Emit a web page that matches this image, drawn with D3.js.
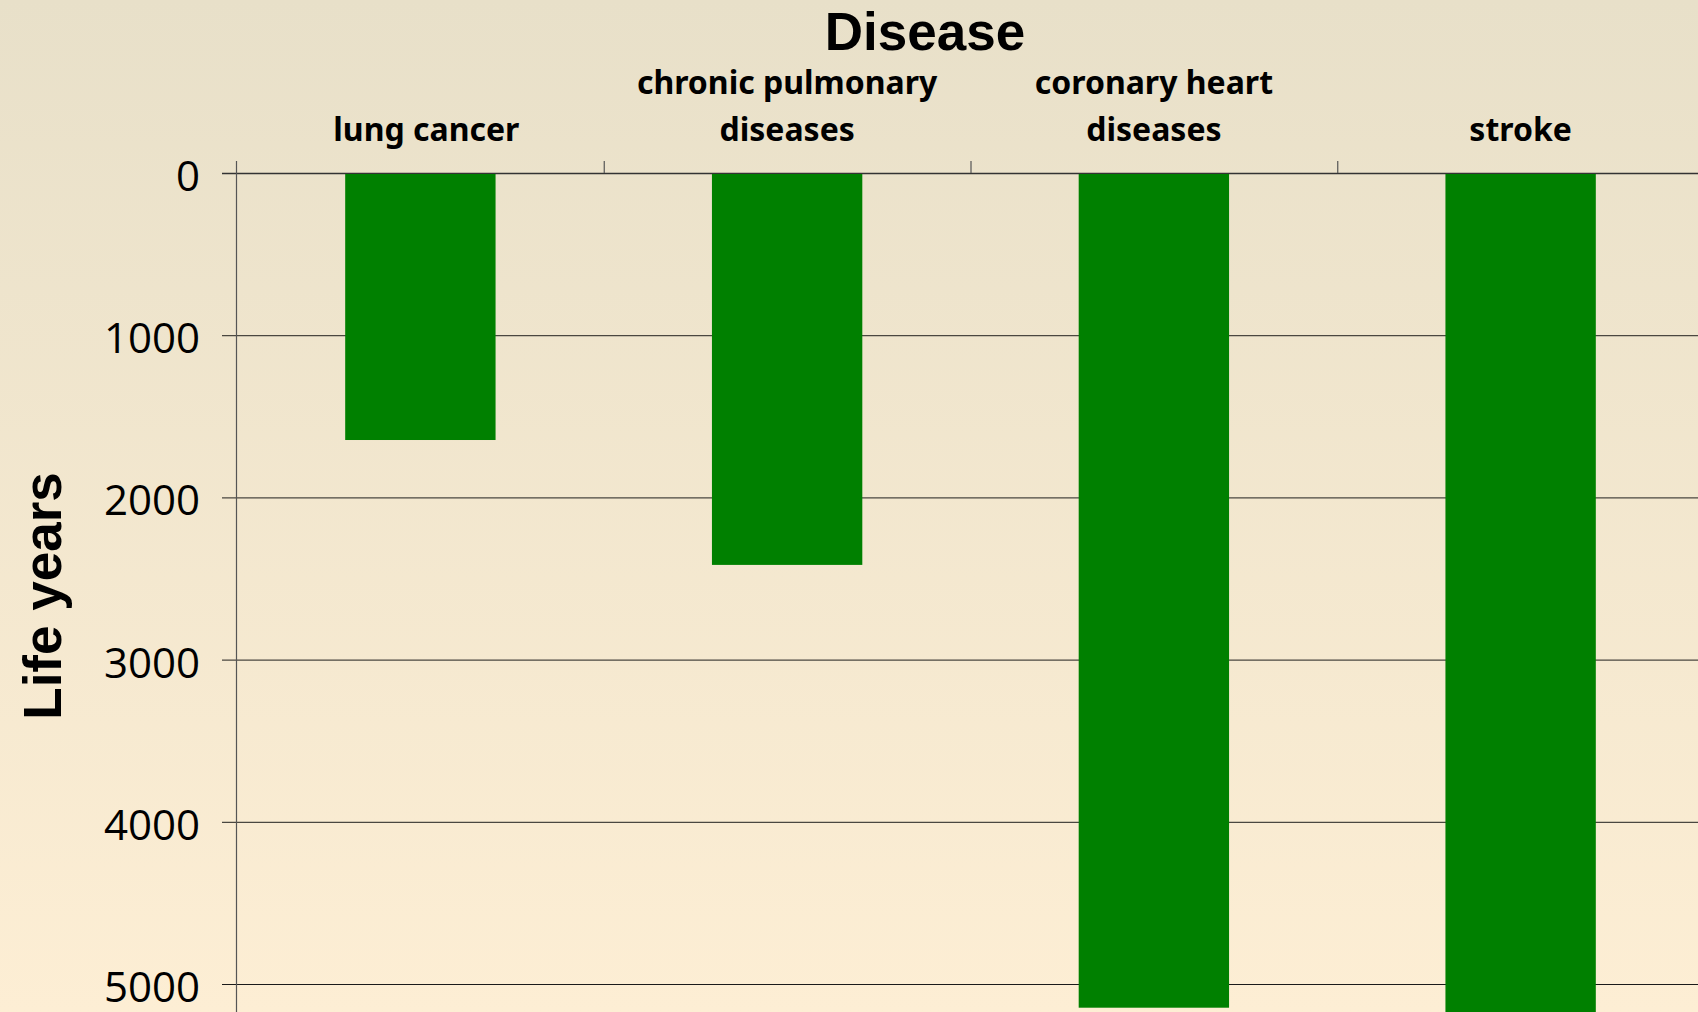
<!DOCTYPE html>
<html>
<head>
<meta charset="utf-8">
<script src="https://cdn.jsdelivr.net/npm/d3@7"></script>
<style>
  html, body { margin: 0; padding: 0; overflow: hidden; }
</style>
</head>
<body>
<svg id="chart"></svg>
<script>
const width = 1698;
const height = 1012;

// Data
const categories = ["lung cancer", "chronic pulmonary diseases", "coronary heart diseases", "stroke"];
const labelLines = [["lung cancer"], ["chronic pulmonary", "diseases"], ["coronary heart", "diseases"], ["stroke"]];
const lifeYears = [1640, 2410, 5140, 5300];
const yTicks = [0, 1000, 2000, 3000, 4000, 5000];

const svg = d3.select("#chart")
  .attr("width", width)
  .attr("height", height);

// Background gradient
const grad = svg.append("defs").append("linearGradient")
  .attr("id", "bg")
  .attr("x1", 0).attr("y1", 0).attr("x2", 0).attr("y2", 1);
grad.append("stop").attr("offset", "0%").attr("stop-color", "#e8e0c9");
grad.append("stop").attr("offset", "100%").attr("stop-color", "#fdeed4");

svg.append("rect")
  .attr("width", width)
  .attr("height", height)
  .attr("fill", "url(#bg)");

// Scales
const x = d3.scaleBand()
  .domain(categories)
  .range([237, 1704]);

const y = d3.scaleLinear()
  .domain([0, 5000])
  .range([173, 984]);

const barFrac = 0.41;

// Gridlines + left ticks
svg.append("g")
  .selectAll("line")
  .data(yTicks)
  .enter()
  .append("line")
    .attr("x1", 222)
    .attr("x2", width)
    .attr("y1", d => y(d) + 0.5)
    .attr("y2", d => y(d) + 0.5)
    .attr("stroke", d => d === 0 ? "#333" : (d === 5000 ? "#1a1a1a" : "#4a4740"))
    .attr("stroke-width", d => d === 0 ? 1.6 : 1.2);

// Tick labels
svg.append("g")
  .selectAll("text")
  .data(yTicks)
  .enter()
  .append("text")
    .attr("x", 200)
    .attr("y", d => y(d) + 18)
    .attr("text-anchor", "end")
    .attr("font-family", "'Open Sans', sans-serif")
    .attr("font-size", "42px")
    .attr("fill", "#000")
    .text(d => d);

// Bars
svg.append("g")
  .selectAll("rect")
  .data(categories)
  .enter()
  .append("rect")
    .attr("x", d => x(d) + x.bandwidth() * (1 - barFrac) / 2)
    .attr("y", y(0) + 1)
    .attr("width", x.bandwidth() * barFrac)
    .attr("height", (d, i) => y(lifeYears[i]) - y(0))
    .attr("fill", "#008000");

// Vertical axis line
svg.append("line")
  .attr("x1", 236.5).attr("x2", 236.5)
  .attr("y1", 161).attr("y2", height)
  .attr("stroke", "#555")
  .attr("stroke-width", 1.2);

// Top category ticks
svg.append("g")
  .selectAll("line")
  .data(categories.slice(1))
  .enter()
  .append("line")
    .attr("x1", d => x(d) + 0.5)
    .attr("x2", d => x(d) + 0.5)
    .attr("y1", 161)
    .attr("y2", 173)
    .attr("stroke", "#555")
    .attr("stroke-width", 1.2);

// Category labels
const labels = svg.append("g")
  .selectAll("text")
  .data(categories)
  .enter()
  .append("text")
    .attr("text-anchor", "middle")
    .attr("font-family", "'Noto Sans', sans-serif")
    .attr("font-weight", "bold")
    .attr("font-size", "32px")
    .attr("fill", "#000");

labels.each(function(d, i) {
  const lines = labelLines[i];
  const t = d3.select(this);
  lines.forEach((ln, j) => {
    t.append("tspan")
      .attr("x", x(d) + x.bandwidth() / 2 + (i === 0 ? 6 : 0))
      .attr("y", 141 - (lines.length - 1 - j) * 47)
      .text(ln);
  });
});

// Axis titles
svg.append("text")
  .attr("x", 925)
  .attr("y", 50)
  .attr("text-anchor", "middle")
  .attr("font-family", "'Liberation Sans', Arial, sans-serif")
  .attr("font-weight", "bold")
  .attr("font-size", "53px")
  .attr("fill", "#000")
  .text("Disease");

svg.append("text")
  .attr("transform", "translate(61, 596) rotate(-90)")
  .attr("text-anchor", "middle")
  .attr("font-family", "'Liberation Sans', Arial, sans-serif")
  .attr("font-weight", "bold")
  .attr("font-size", "53px")
  .attr("fill", "#000")
  .text("Life years");
</script>
</body>
</html>
